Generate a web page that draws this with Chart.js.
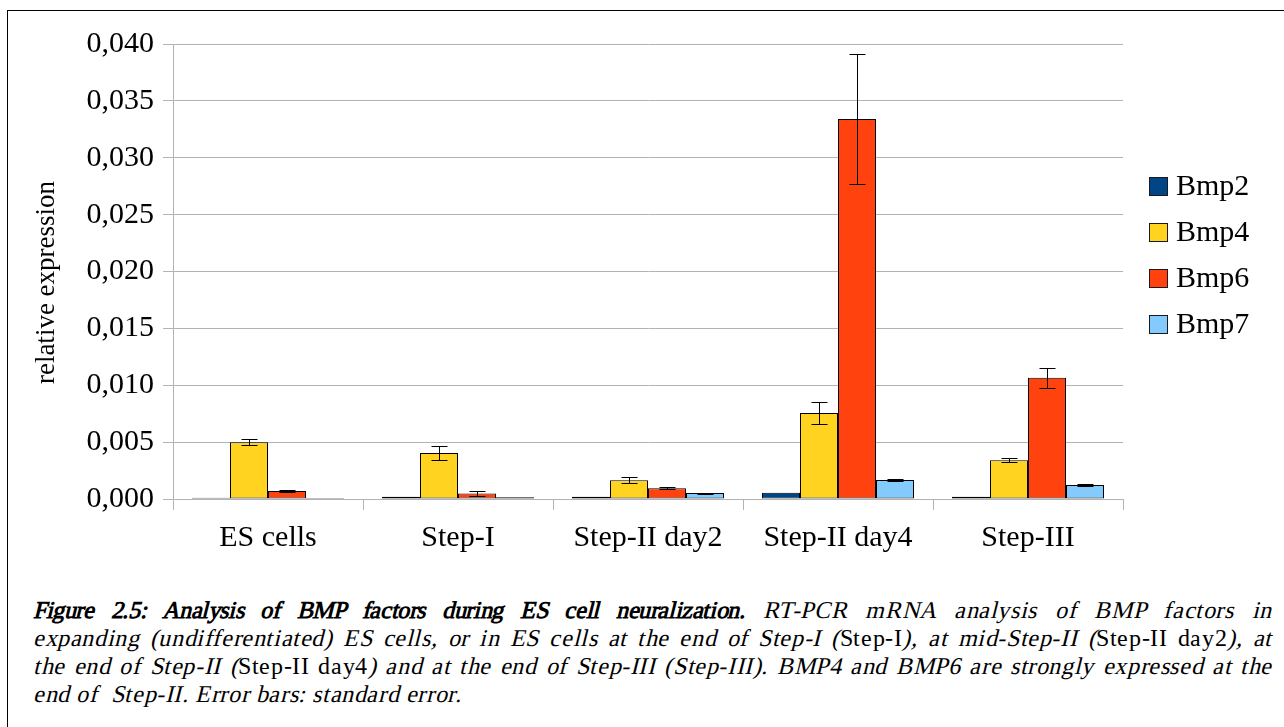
<!DOCTYPE html>
<html>
<head>
<meta charset="utf-8">
<script src="https://cdn.jsdelivr.net/npm/chart.js@4.4.1/dist/chart.umd.min.js"></script>
<style>
  /* single upright face; italic and bold are synthesised from it */
  @font-face { font-family: "CapSerif"; src: local("Liberation Serif"), local("LiberationSerif"), local("Liberation Serif Regular"); }
  html, body { margin: 0; padding: 0; background: #fff; }
  body { width: 1284px; height: 727px; position: relative; overflow: hidden; }
  #frame { position: absolute; left: 7px; top: 10px; width: 1290px; height: 730px;
           border-left: 1px solid #000; border-top: 1px solid #000; }
  #wrap { position: absolute; left: 0; top: 0; width: 1284px; height: 580px; }
  #caption { position: absolute; left: 33px; top: 596px; width: 1239px;
             font-family: "CapSerif"; font-size: 24px; letter-spacing: 0.6px;
             font-synthesis: weight style; line-height: 28px; color: #000; font-style: italic; }
  #caption b { letter-spacing: -0.4px; }
  #caption .ln { white-space: nowrap; text-align: justify; text-align-last: justify; }
  #caption .ln.end { text-align: left; text-align-last: left; }
  #caption .up { font-style: normal; }
</style>
</head>
<body>
<div id="frame"></div>
<div id="wrap"><canvas id="bmpChart"></canvas></div>
<div id="caption">
  <div class="ln"><b>Figure 2.5: Analysis of BMP factors during ES cell neuralization.</b> RT-PCR mRNA analysis of BMP factors in</div>
  <div class="ln">expanding (undifferentiated) ES cells, or in ES cells at the end of Step-I (<span class="up">Step-I</span>), at mid-Step-II (<span class="up">Step-II day2</span>), at</div>
  <div class="ln">the end of Step-II (<span class="up">Step-II day4</span>) and at the end of Step-III (Step-III). BMP4 and BMP6 are strongly expressed at the</div>
  <div class="ln end">end of&nbsp; Step-II. Error bars: standard error.</div>
</div>
<script>
const stages = ['ES cells', 'Step-I', 'Step-II day2', 'Step-II day4', 'Step-III'];
const genes = ['Bmp2', 'Bmp4', 'Bmp6', 'Bmp7'];
const geneColors = ['#004586', '#ffd320', '#ff420e', '#83caff'];

// mean relative expression per stage
const bmp2 = [0.0001, 0.0002, 0.0002, 0.00055, 0.0002];
const bmp4 = [0.00500, 0.00405, 0.00165, 0.00755, 0.00340];
const bmp6 = [0.00070, 0.00048, 0.00094, 0.03340, 0.01065];
const bmp7 = [0.00005, 0.00015, 0.00052, 0.00168, 0.00124];

// standard error
const bmp2Err = [0, 0, 0, 0, 0];
const bmp4Err = [0.00025, 0.00060, 0.00025, 0.00095, 0.00018];
const bmp6Err = [0.00005, 0.00025, 0.00008, 0.00570, 0.00090];
const bmp7Err = [0, 0, 0.00004, 0.00012, 0.00006];

const yTicks = [0, 0.005, 0.010, 0.015, 0.020, 0.025, 0.030, 0.035, 0.040];

const means = [bmp2, bmp4, bmp6, bmp7];
const errors = [bmp2Err, bmp4Err, bmp6Err, bmp7Err];

const serif = '"Liberation Serif", "Times New Roman", serif';
const gridGrey = '#b3b3b3';

const errorBars = {
  id: 'errorBars',
  afterDatasetsDraw(chart) {
    const ctx = chart.ctx;
    const y = chart.scales.y;
    ctx.save();
    ctx.strokeStyle = '#000';
    ctx.lineWidth = 1;
    chart.data.datasets.forEach((ds, i) => {
      const meta = chart.getDatasetMeta(i);
      meta.data.forEach((bar, j) => {
        const e = ds.err[j];
        if (!e) return;
        const x = Math.round(bar.x) + 0.5;
        const top = Math.round(y.getPixelForValue(ds.data[j] + e)) + 0.5;
        const bot = Math.round(y.getPixelForValue(ds.data[j] - e)) + 0.5;
        ctx.beginPath();
        ctx.moveTo(x, top); ctx.lineTo(x, bot);
        ctx.moveTo(x - 8, top); ctx.lineTo(x + 8, top);
        ctx.moveTo(x - 8, bot); ctx.lineTo(x + 8, bot);
        ctx.stroke();
      });
    });
    ctx.restore();
  }
};

// axis title, drawn a little below the middle of the plot
const yTitle = {
  id: 'yTitle',
  afterDraw(chart) {
    const ctx = chart.ctx;
    const area = chart.chartArea;
    ctx.save();
    ctx.translate(47, (area.top + area.bottom) / 2 + 11);
    ctx.rotate(-Math.PI / 2);
    ctx.font = '27px ' + serif;
    ctx.fillStyle = '#000';
    ctx.textAlign = 'center';
    ctx.textBaseline = 'middle';
    ctx.fillText('relative expression', 0, 0);
    ctx.restore();
  }
};

// legend at the right, boxes with a dark outline
const sideLegend = {
  id: 'sideLegend',
  afterDraw(chart) {
    const ctx = chart.ctx;
    const area = chart.chartArea;
    const x0 = area.right + 26;
    const y0 = 186;
    ctx.save();
    ctx.font = '30px ' + serif;
    ctx.textBaseline = 'middle';
    chart.data.datasets.forEach((ds, i) => {
      const cy = y0 + i * 46;
      ctx.fillStyle = ds.backgroundColor;
      ctx.fillRect(x0, cy - 9, 19, 19);
      ctx.strokeStyle = '#1a1a1a';
      ctx.lineWidth = 1;
      ctx.strokeRect(x0 + 0.5, cy - 8.5, 18, 18);
      ctx.fillStyle = '#000';
      ctx.fillText(ds.label, x0 + 27, cy + 1);
    });
    ctx.restore();
  }
};

new Chart(document.getElementById('bmpChart'), {
  type: 'bar',
  data: {
    labels: stages,
    datasets: genes.map((g, i) => ({
      label: g,
      data: means[i],
      err: errors[i],
      backgroundColor: geneColors[i],
      borderColor: '#000',
      borderWidth: 1,
      borderSkipped: false,
      categoryPercentage: 0.8,
      barPercentage: 1.0,
      minBarLength: 1
    }))
  },
  options: {
    responsive: true,
    maintainAspectRatio: false,
    animation: false,
    layout: { padding: { top: 44, right: 161, bottom: 0, left: 20 } },
    plugins: {
      legend: { display: false },
      tooltip: { enabled: false }
    },
    scales: {
      x: {
        afterFit(s) { s.height = 81; },
        grid: {
          color: c => (c.index === 0 || c.index === stages.length) ? gridGrey : 'rgba(0,0,0,0)',
          tickColor: gridGrey,
          tickLength: 11,
          lineWidth: 1
        },
        border: { color: gridGrey },
        ticks: { color: '#000', font: { family: serif, size: 30 }, padding: 10, maxRotation: 0 }
      },
      y: {
        min: 0,
        max: 0.04,
        afterFit(s) { s.width = 153; },
        afterBuildTicks(s) { s.ticks = yTicks.map(v => ({ value: v })); },
        grid: { color: gridGrey, tickColor: gridGrey, tickLength: 10 },
        border: { color: gridGrey },
        ticks: {
          color: '#000',
          font: { family: serif, size: 30 },
          padding: 9,
          callback: v => v.toFixed(3).replace('.', ',')
        }
      }
    }
  },
  plugins: [errorBars, yTitle, sideLegend]
});
</script>
</body>
</html>
